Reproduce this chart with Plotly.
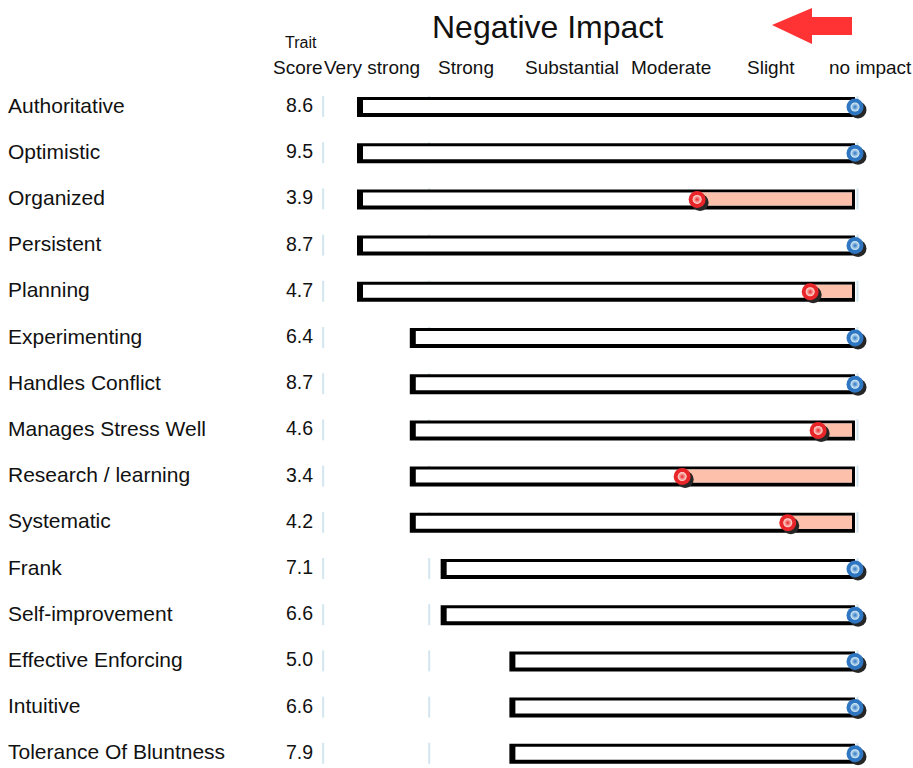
import plotly.graph_objects as go

# ---------------- data ----------------
traits = ["Authoritative", "Optimistic", "Organized", "Persistent", "Planning",
          "Experimenting", "Handles Conflict", "Manages Stress Well",
          "Research / learning", "Systematic", "Frank", "Self-improvement",
          "Effective Enforcing", "Intuitive", "Tolerance Of Bluntness"]
scores = [8.6, 9.5, 3.9, 8.7, 4.7, 6.4, 8.7, 4.6, 3.4, 4.2, 7.1, 6.6, 5.0, 6.6, 7.9]
# potential negative impact of each trait (bar length, 0 = no impact)
max_impact = [100, 100, 100, 100, 100, 89.4, 89.4, 89.4, 89.4, 89.4,
              83.2, 83.2, 69.4, 69.4, 69.4]
# actual negative impact (marker)
impact = [0, 0, 31.7, 0, 9.0, 0, 0, 7.4, 34.7, 13.5, 0, 0, 0, 0, 0]
# impact scale labels and their positions on the impact scale
level_labels = ["Very strong", "Strong", "Substantial", "Moderate", "Slight", "no impact"]
level_values = [97.0, 78.2, 56.8, 36.9, 16.8, -3.2]
# light guide ticks on the impact scale
guide_values = [106.8, 85.5, -0.5]

# ---------------- geometry helpers (styling) ----------------
W, H = 913, 768
K = 4.98          # px per impact unit
ZERO_PX = 855     # pixel x of impact 0
ROW0_PX = 107     # pixel y of first row centre
ROW_PX = 46.2     # row pitch
n = len(traits)
rows = list(range(n))

def dx(px):   # pixel length -> impact units
    return px / K

def dy(px):   # pixel length -> row units
    return px / ROW_PX

x_range = [ZERO_PX / K, (ZERO_PX - W) / K]            # reversed axis
y_range = [(H - ROW0_PX) / ROW_PX, -ROW0_PX / ROW_PX]  # reversed axis

fig = go.Figure()

# outer black frame bar
fig.add_trace(go.Bar(
    y=rows, x=max_impact, base=[0] * n, orientation="h",
    offset=-dy(10), width=dy(20),
    marker=dict(color="#000000", line=dict(width=0)),
    hoverinfo="skip", showlegend=False))

# inner white bar (inset: left 6, right 3, top 3, bottom 4 px)
fig.add_trace(go.Bar(
    y=rows, x=[m - dx(9) for m in max_impact], base=[dx(3)] * n, orientation="h",
    offset=-dy(7), width=dy(13),
    marker=dict(color="#ffffff", line=dict(width=0)),
    hoverinfo="skip", showlegend=False))

# pink impact fill
fig.add_trace(go.Bar(
    y=rows, x=[max(v - dx(3), 0) for v in impact], base=[dx(3)] * n, orientation="h",
    offset=-dy(7), width=dy(13),
    marker=dict(color="#fdc0ab", line=dict(width=0)),
    hoverinfo="skip", showlegend=False))

# marker shadow
fig.add_trace(go.Scatter(
    x=[v - dx(3) for v in impact], y=[r + dy(3) for r in rows],
    mode="markers",
    marker=dict(size=17, color="#262626", line=dict(width=0)),
    hoverinfo="skip", showlegend=False))

# markers: coloured disc + light glossy centre
ring = ["#e8262a" if v > 0 else "#2f76c2" for v in impact]
center = ["#ffe6dc" if v > 0 else "#dff4fa" for v in impact]
fig.add_trace(go.Scatter(
    x=impact, y=rows, mode="markers",
    marker=dict(size=17, color=ring, line=dict(width=0)),
    hoverinfo="skip", showlegend=False))
fig.add_trace(go.Scatter(
    x=impact, y=rows, mode="markers",
    marker=dict(size=9, color=center,
                gradient=dict(type="radial", color=ring),
                line=dict(width=0)),
    hoverinfo="skip", showlegend=False))

# guide ticks (below traces)
shapes = []
for r in rows:
    for g in guide_values:
        shapes.append(dict(type="line", xref="x", yref="y", layer="below",
                           x0=g, x1=g, y0=r - dy(11), y1=r + dy(10),
                           line=dict(color="#d3e6f0", width=2)))

# arrow (decoration)
def px2paper(x, y):
    return x / W, 1 - y / H

arrow_pts = [(772, 25), (812, 8), (812, 17), (852, 17), (852, 35), (812, 35), (812, 44)]
path = "M " + " L ".join(f"{px2paper(x, y)[0]:.5f},{px2paper(x, y)[1]:.5f}" for x, y in arrow_pts) + " Z"
shapes.append(dict(type="path", xref="paper", yref="paper", path=path,
                   fillcolor="#ff3333", line=dict(width=0)))

annotations = []
FONT = "Liberation Sans, Arial, sans-serif"
for r, t, s in zip(rows, traits, scores):
    annotations.append(dict(text=t, xref="paper", yref="y", x=6 / W, y=r - dy(2),
                            xanchor="left", yanchor="middle", showarrow=False,
                            font=dict(size=21, color="#111111", family=FONT)))
    annotations.append(dict(text=f"{s:.1f}", xref="paper", yref="y", x=315 / W, y=r - dy(2),
                            xanchor="right", yanchor="middle", showarrow=False,
                            font=dict(size=19.5, color="#111111", family=FONT)))
for lab, v in zip(level_labels, level_values):
    annotations.append(dict(text=lab, xref="x", yref="paper", x=v, y=1 - 68 / H,
                            xanchor="center", yanchor="middle", showarrow=False,
                            font=dict(size=19, color="#111111", family=FONT)))
annotations.append(dict(text="Score", xref="paper", yref="paper", x=298 / W, y=1 - 68 / H,
                        xanchor="center", yanchor="middle", showarrow=False,
                        font=dict(size=19, color="#111111", family=FONT)))
annotations.append(dict(text="Trait", xref="paper", yref="paper", x=301 / W, y=1 - 42 / H,
                        xanchor="center", yanchor="middle", showarrow=False,
                        font=dict(size=16, color="#111111", family=FONT)))
annotations.append(dict(text="Negative Impact", xref="paper", yref="paper", x=547 / W, y=1 - 27 / H,
                        xanchor="center", yanchor="middle", showarrow=False,
                        font=dict(size=32, color="#111111", family=FONT)))

fig.update_layout(
    width=W, height=H,
    margin=dict(l=0, r=0, t=0, b=0),
    paper_bgcolor="white", plot_bgcolor="white",
    barmode="overlay",
    xaxis=dict(range=x_range, visible=False, fixedrange=True),
    yaxis=dict(range=y_range, visible=False, fixedrange=True),
    shapes=shapes, annotations=annotations,
    showlegend=False,
)

fig.write_html("out.html")
